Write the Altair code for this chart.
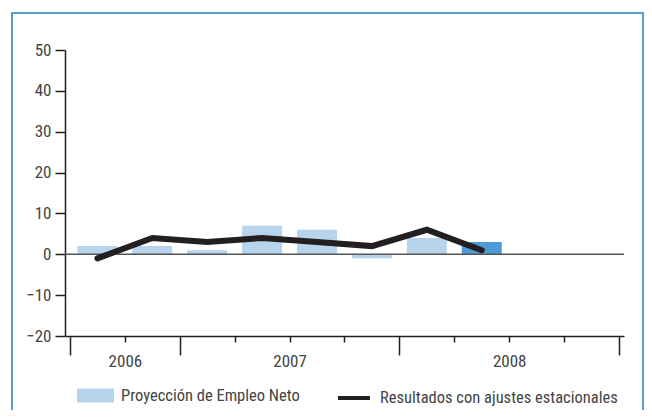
import altair as alt
import pandas as pd

# Data
trimestres = ["T3 2006", "T4 2006", "T1 2007", "T2 2007", "T3 2007", "T4 2007", "T1 2008", "T2 2008"]
proyeccion = [2, 2, 1, 7, 6, -1, 4, 3]
ajustados = [-1, 4, 3, 4, 3, 2, 6, 1]
anios = ["2006", "2007", "2008"]
serie_barras = "Proyección de Empleo Neto"
serie_linea = "Resultados con ajustes estacionales"

FONT = "Liberation Sans Narrow, Arial Narrow, Roboto Condensed, Liberation Sans"
LIGHT = "#b8d3ec"
DARK = "#4e9ad4"
INK = "#231f20"
TXT = "#444444"

df = pd.DataFrame({
    "trimestre": trimestres,
    "pos": [i + 0.5 for i in range(len(trimestres))],
    "proyeccion": proyeccion,
    "ajustados": ajustados,
    "serie_b": [serie_barras] * (len(trimestres) - 1) + ["actual"],
    "serie_l": [serie_linea] * len(trimestres),
})

xscale = alt.Scale(domain=[0, 10], nice=False, zero=False)
yscale = alt.Scale(domain=[-20, 50], nice=False)

label_expr = ("datum.value == 1 ? '" + anios[0] + "' : datum.value == 4 ? '" + anios[1]
              + "' : datum.value == 8 ? '" + anios[2] + "' : ''")

xaxis = alt.Axis(
    values=list(range(11)), title=None, grid=False,
    labelExpr=label_expr, labelFont=FONT, labelFontSize=17, labelColor=TXT,
    labelAngle=0, labelPadding=11, labelFlush=False, labelOverlap=False,
    domainColor=INK, domainWidth=1.5, tickColor=INK, tickWidth=1.5,
    tickSize={"condition": {"test": "indexof([0, 2, 6, 10], datum.value) >= 0", "value": 19}, "value": 6},
)
yaxis = alt.Axis(
    values=list(range(-20, 51, 10)), title=None, grid=False,
    labelFont=FONT, labelFontSize=17, labelColor=TXT, labelPadding=4,
    domainColor=INK, domainWidth=1.5, tickColor=INK, tickWidth=1.5, tickSize=10,
)

base = alt.Chart(df)

# frame (decoration)
frame = alt.Chart(pd.DataFrame({"a": [0]})).mark_rect(
    fill=None, stroke="#5b9bd5", strokeWidth=2, clip=False
).encode(
    x=alt.value(-53), x2=alt.value(578), y=alt.value(-37), y2=alt.value(420)
)

bars = base.mark_bar(size=40).encode(
    x=alt.X("pos:Q", scale=xscale, axis=xaxis),
    y=alt.Y("proyeccion:Q", scale=yscale, axis=yaxis),
    fill=alt.Fill(
        "serie_b:N",
        scale=alt.Scale(domain=[serie_barras, "actual"], range=[LIGHT, DARK]),
        legend=alt.Legend(
            title=None, values=[serie_barras], orient="none", legendX=12, legendY=327,
            symbolType="M-1,-0.38H1V0.38H-1Z", symbolSize=1369, symbolStrokeWidth=0,
            labelFont=FONT, labelFontSize=16.5, labelColor=TXT, labelOffset=7,
            labelLimit=400, padding=0,
        ),
    ),
)

zero = alt.Chart(pd.DataFrame({"y": [0]})).mark_rule(color="#555555", strokeWidth=1.5).encode(
    y=alt.Y("y:Q", scale=yscale), x=alt.value(0), x2=alt.value(559)
)

line = base.mark_line(strokeWidth=6, strokeCap="round", strokeJoin="miter").encode(
    x=alt.X("pos:Q", scale=xscale),
    y=alt.Y("ajustados:Q", scale=yscale),
    stroke=alt.Stroke(
        "serie_l:N",
        scale=alt.Scale(domain=[serie_linea], range=[INK]),
        legend=alt.Legend(
            title=None, orient="none", legendX=271, legendY=330,
            symbolType="stroke", symbolSize=1024, symbolStrokeWidth=4,
            labelFont=FONT, labelFontSize=16.5, labelColor=TXT, labelOffset=8,
            labelLimit=400, padding=0,
        ),
    ),
)

chart = alt.layer(frame, bars, zero, line).resolve_scale(
    fill="independent", stroke="independent"
).properties(
    width=559, height=286,
    autosize=alt.AutoSizeParams(type="none"),
    padding={"left": 57, "top": 42, "right": 20, "bottom": 74},
).configure_view(stroke=None)

chart.save("out.html", embed_options={"renderer": "svg", "actions": False})
